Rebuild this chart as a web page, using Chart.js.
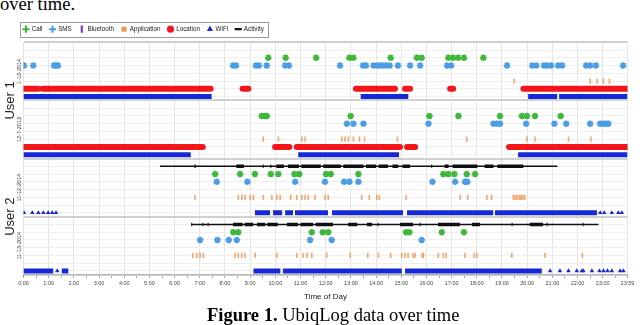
<!DOCTYPE html>
<html>
<head>
<meta charset="utf-8">
<script src="https://cdn.jsdelivr.net/npm/chart.js@4.4.1/dist/chart.umd.min.js"></script>
<style>
  html, body { margin: 0; padding: 0; background: #fff; }
  body { width: 640px; height: 325px; position: relative; overflow: hidden; }
  #ubiq { position: absolute; left: 0; top: 0; }
  .serif { position: absolute; white-space: nowrap; color: #000; font-family: 'Liberation Serif', 'Times New Roman', serif; }
  #lead { left: 0; top: -6px; font-size: 18.5px; }
  #caption { left: 207px; top: 305px; font-size: 18.5px; }
</style>
</head>
<body>
<div id="lead" class="serif">over time.</div>
<canvas id="ubiq" width="640" height="325"></canvas>
<div id="caption" class="serif"><b>Figure 1.</b> UbiqLog data over time</div>
<script>
// ============================================
// UbiqLog timeline: one band per user-day, one row per sensor
// values are hours of the day, one list per band (top to bottom)
// ============================================

const days = ['1-13-2014', '12-7-2013', '11-12-2014', '11-13-2014'];
const users = ['User 1', 'User 2'];
const rowNames = ['Activity', 'Call', 'SMS', 'Bluetooth', 'Application', 'Location', 'WiFi'];
const tickLabels = ['0:00','1:00','2:00','3:00','4:00','5:00','6:00','7:00','8:00','9:00','10:00','11:00',
  '12:00','13:00','14:00','15:00','16:00','17:00','18:00','19:00','20:00','21:00','22:00','23:00','23:59'];

const callHours = [
  [9.72, 10.41, 11.62, 12.94, 13.1, 14.58, 15.62, 15.81, 16.87, 17.06, 17.26, 17.49, 18.26],
  [9.46, 9.58, 9.66, 12.99, 16.12, 17.27, 18.92, 19.79, 19.99, 20.31, 21.33],
  [7.61, 8.6, 9.19, 9.82, 10.12, 10.76, 10.95, 12.01, 12.2, 13.3, 16.67, 16.87, 17.11, 17.6, 17.93],
  [8.33, 8.53, 11.45, 11.88, 12.1, 15.19, 15.32, 16.61, 17.49]
];
const smsHours = [
  [0.02, 0.39, 1.21, 1.29, 1.37, 8.32, 8.44, 9.23, 9.35, 9.66, 10.39, 10.54, 12.57, 13.48, 13.6, 13.9, 14.06,
   14.14, 14.26, 14.38, 14.54, 14.87, 15.35, 15.75, 16.82, 16.98, 19.2, 20.2, 20.36, 20.67, 20.79, 20.95,
   21.23, 21.39, 22.34, 22.5, 22.73, 23.81],
  [12.84, 13.1, 13.5, 16.08, 18.66, 18.79, 18.92, 19.96, 21.08, 21.55, 22.5, 22.9, 23.02, 23.14, 23.22],
  [7.67, 8.89, 10.79, 11.97, 12.73, 12.94, 13.3, 16.24, 17.14, 17.53, 17.62],
  [7.01, 7.7, 8.15, 8.47, 11.38, 12.24, 15.81]
];
const bluetoothHours = [[], [], [], []];
const appHours = [
  [19.48, 22.5, 22.78, 23.03, 23.27],
  [9.52, 10.12, 11.05, 11.18, 12.64, 12.77, 12.9, 13.1, 13.34, 13.54, 14.85, 17.6, 19.99, 20.31, 21.64, 22.53],
  [6.81, 8.53, 8.67, 8.8, 9.0, 9.13, 9.52, 9.86, 10.06, 10.19, 10.61, 10.85, 11.05, 11.18, 11.31, 11.58,
   11.97, 12.1, 13.43, 13.73, 14.03, 14.13, 15.19, 17.34, 17.64, 18.4, 18.59, 19.45, 19.52, 19.6, 19.68,
   19.75, 19.82, 19.9],
  [6.72, 6.88, 7.01, 7.14, 8.4, 8.53, 8.67, 8.8, 9.2, 10.06, 10.85, 11.1, 11.26, 11.45, 12.04, 12.97, 13.67,
   14.09, 14.58, 15.02, 15.15, 15.27, 15.47, 15.55, 15.83, 15.88, 16.47, 16.67, 16.78, 17.53, 17.89, 18.0,
   19.39, 20.71, 22.19]
];
const locationSpans = [
  [[0, 0.58], [0.76, 7.43], [8.7, 8.93], [13.2, 14.75], [15.15, 15.35], [16.94, 17.06], [19.85, 23.98]],
  [[0, 7.12], [9.99, 10.39], [10.5, 10.56], [10.85, 14.95], [15.23, 15.55], [19.28, 23.98]],
  [],
  []
];
const wifiSpans = [
  [[0, 7.47], [13.39, 15.28], [20.04, 21.19], [21.27, 23.98]],
  [[0, 6.64], [10.91, 14.91], [19.64, 23.98]],
  [[9.19, 9.79], [9.91, 10.27], [10.39, 10.7], [10.78, 12.09], [12.25, 15.07], [15.23, 18.65], [18.72, 22.77]],
  [[0, 1.18], [1.52, 1.78], [9.13, 10.2], [10.3, 15.02], [15.15, 20.58]]
];
const wifiHours = [
  [],
  [],
  [0.02, 0.35, 0.59, 0.79, 0.98, 1.14, 1.29, 22.9, 23.06, 23.36, 23.62, 23.76],
  [1.34, 20.91, 21.3, 21.64, 21.97, 22.17, 22.23, 22.57, 22.87, 23.03, 23.19, 23.36, 23.69, 23.82]
];
const activitySpans = [[], [], [[5.42, 21.2]], [[6.68, 22.83]]];
const activityBursts = [
  [],
  [],
  [[6.79, 6.84], [8.45, 8.75], [9.5, 9.54], [9.8, 9.84], [10.04, 10.34], [10.5, 10.94], [11.03, 11.8],
   [11.9, 12.6], [12.7, 13.5], [13.6, 14.0], [14.1, 14.47], [14.65, 14.88], [15.05, 15.35], [16.19, 16.23],
   [16.72, 16.88], [17.04, 18.02], [18.31, 18.66], [18.82, 19.85]],
  [[6.66, 6.7], [7.11, 7.15], [7.31, 7.35], [8.32, 8.7], [8.78, 9.12], [9.27, 9.6], [9.68, 10.1],
   [10.46, 10.9], [11.0, 11.5], [11.6, 12.29], [12.89, 13.25], [13.64, 13.84], [14.06, 14.1], [14.95, 15.47],
   [15.73, 15.77], [16.46, 17.33], [17.81, 18.13], [19.38, 19.42], [20.1, 20.63], [20.77, 20.81], [22.2, 22.24]]
];

// ---- layout helpers ----
const PANEL = 7.5, TOP = PANEL * days.length;
const rowY = (p, name) => TOP - PANEL * p - (rowNames.indexOf(name) + 1);
const toHours = s => { const [h, m] = s.split(':').map(Number); return h + m / 60; };
const tickHours = tickLabels.map(toHours);
const halfHours = tickHours.slice(0, -1).map((h, i) => (h + tickHours[i + 1]) / 2);

const points = (lists, row) => lists.flatMap((hrs, p) => hrs.map(h => ({ x: h, y: rowY(p, row) })));
const spans = (lists, row) => lists.flatMap((list, p) =>
  list.flatMap(([a, b]) => [{ x: a, y: rowY(p, row) }, { x: b, y: rowY(p, row) }, { x: b, y: null }]));

const COL = {
  call: '#3db83a', sms: '#4b9de6', bt: '#7a3fc4', app: 'rgba(241,138,60,0.75)', appIcon: '#f29650',
  loc: '#f2161b', wifi: '#1628d8', act: '#111111'
};
const FONT = "'Liberation Sans', Arial, sans-serif";

const gridValues = [];
days.forEach((d, p) => {
  gridValues.push(TOP - PANEL * p);
  rowNames.forEach(r => gridValues.push(rowY(p, r)));
});
gridValues.push(0);
const isBoundary = v => Math.abs(v / PANEL - Math.round(v / PANEL)) < 1e-6;

// ---- plugins: frame round the legend, side labels for day and user ----
const legendFrame = {
  id: 'legendFrame',
  afterDraw(chart) {
    const hb = chart.legend.legendHitBoxes;
    if (!hb || !hb.length) return;
    const last = hb[hb.length - 1];
    const l = hb[0].left - 4, r = last.left + last.width + 4;
    const t = hb[0].top - 4.5, b = hb[0].top + hb[0].height + 4.5;
    const ctx = chart.ctx;
    ctx.save();
    ctx.strokeStyle = '#9a9a9a'; ctx.lineWidth = 1;
    ctx.strokeRect(Math.round(l) + 0.5, Math.round(t) + 0.5, Math.round(r - l), Math.round(b - t));
    ctx.restore();
  }
};

const sideLabels = {
  id: 'sideLabels',
  afterDraw(chart) {
    const { ctx, scales: { y } } = chart;
    const put = (text, x, py) => {
      ctx.save(); ctx.translate(x, py); ctx.rotate(-Math.PI / 2); ctx.fillText(text, 0, 0); ctx.restore();
    };
    ctx.save();
    ctx.textAlign = 'center'; ctx.textBaseline = 'middle';
    ctx.fillStyle = '#333'; ctx.font = '5.5px ' + FONT;
    days.forEach((d, p) => put(d, 19, y.getPixelForValue(TOP - PANEL * (p + 0.5))));
    ctx.fillStyle = '#222'; ctx.font = '13px ' + FONT;
    users.forEach((u, k) => put(u, 10, y.getPixelForValue(TOP - PANEL * (2 * k + 1))));
    ctx.restore();
  }
};

const spanSet = (label, data, color, width, cap, icon) => ({
  label, data, showLine: true, spanGaps: false, borderColor: color, backgroundColor: color,
  borderWidth: width, borderCapStyle: cap, pointRadius: 0, pointHoverRadius: 0, legendIcon: icon
});

const datasets = [
  { label: 'Call', data: points(callHours, 'Call'), pointStyle: 'star', pointRadius: 3.3, borderWidth: 1.8,
    borderColor: COL.call, backgroundColor: COL.call,
    legendIcon: { style: 'cross', fill: COL.call, stroke: COL.call, width: 2 } },
  { label: 'SMS', data: points(smsHours, 'SMS'), pointStyle: 'star', pointRadius: 3.3, borderWidth: 1.8,
    borderColor: COL.sms, backgroundColor: COL.sms,
    legendIcon: { style: 'cross', fill: COL.sms, stroke: COL.sms, width: 2 } },
  { label: 'Bluetooth', data: points(bluetoothHours, 'Bluetooth'), pointStyle: 'line', rotation: 90,
    pointRadius: 3, borderWidth: 2, borderColor: COL.bt, backgroundColor: COL.bt,
    legendIcon: { style: 'line', rotation: 90, fill: COL.bt, stroke: COL.bt, width: 2.2 } },
  { label: 'Application', data: points(appHours, 'Application'), pointStyle: 'line', rotation: 90,
    pointRadius: 2.6, borderWidth: 1.6, borderColor: COL.app, backgroundColor: COL.app,
    legendIcon: { style: 'rect', fill: COL.appIcon, stroke: COL.appIcon, width: 0 } },
  spanSet('Location', spans(locationSpans, 'Location'), COL.loc, 6, 'round',
    { style: 'circle', fill: COL.loc, stroke: COL.loc, width: 0 }),
  spanSet('WiFi', spans(wifiSpans, 'WiFi'), COL.wifi, 5, 'butt',
    { style: 'triangle', fill: COL.wifi, stroke: COL.wifi, width: 0 }),
  { label: 'WiFi scan', data: points(wifiHours, 'WiFi'), pointStyle: 'triangle', pointRadius: 2.6,
    borderWidth: 0, borderColor: COL.wifi, backgroundColor: COL.wifi },
  spanSet('Activity', spans(activitySpans, 'Activity'), COL.act, 1.4, 'butt',
    { style: 'line', fill: COL.act, stroke: COL.act, width: 2.2 }),
  spanSet('Activity burst', spans(activityBursts, 'Activity'), COL.act, 3.5, 'butt', null)
];

new Chart(document.getElementById('ubiq'), {
  type: 'scatter',
  data: { datasets },
  plugins: [legendFrame, sideLabels],
  options: {
    responsive: false, animation: false, events: [],
    layout: { padding: { left: 16, right: 12.5, top: 18.5, bottom: 19 } },
    plugins: {
      tooltip: { enabled: false },
      legend: {
        position: 'top', align: 'start',
        labels: {
          usePointStyle: true, boxWidth: 5, boxHeight: 5, padding: 7.5,
          color: '#222', font: { family: FONT, size: 6.3 },
          generateLabels: chart => chart.data.datasets
            .map((ds, i) => ({ ds, i }))
            .filter(({ ds }) => ds.legendIcon)
            .map(({ ds, i }) => ({
              text: ds.label, datasetIndex: i, hidden: false, fontColor: '#222',
              pointStyle: ds.legendIcon.style, rotation: ds.legendIcon.rotation || 0,
              fillStyle: ds.legendIcon.fill, strokeStyle: ds.legendIcon.stroke,
              lineWidth: ds.legendIcon.width
            }))
        }
      }
    },
    scales: {
      x: {
        type: 'linear', min: 0, max: tickHours[tickHours.length - 1],
        afterBuildTicks: s => { s.ticks = tickHours.concat(halfHours).sort((a, b) => a - b).map(v => ({ value: v })); },
        ticks: {
          autoSkip: false, maxRotation: 0, minRotation: 0, padding: 2,
          color: '#444', font: { family: FONT, size: 5.5 },
          callback: v => { const i = tickHours.indexOf(v); return i >= 0 ? tickLabels[i] : ''; }
        },
        grid: {
          tickLength: 3, tickColor: '#9a9a9a', lineWidth: 1,
          color: ctx => (ctx.tick && tickHours.includes(ctx.tick.value)) ? '#e4e4e4' : 'rgba(0,0,0,0)'
        },
        border: { color: '#b5b5b5' },
        title: { display: true, text: 'Time of Day', color: '#222', font: { family: FONT, size: 8 }, padding: { top: 4, bottom: 4 } }
      },
      y: {
        type: 'linear', min: 0, max: TOP,
        afterBuildTicks: s => { s.ticks = gridValues.map(v => ({ value: v })); },
        afterFit: s => { s.width = 7.5; },
        ticks: { display: false },
        grid: {
          drawTicks: false,
          color: ctx => isBoundary(ctx.tick.value) ? '#d0d0d0' : '#efefef',
          lineWidth: ctx => isBoundary(ctx.tick.value) ? 2 : 1
        },
        border: { display: false }
      }
    }
  }
});
</script>
</body>
</html>
